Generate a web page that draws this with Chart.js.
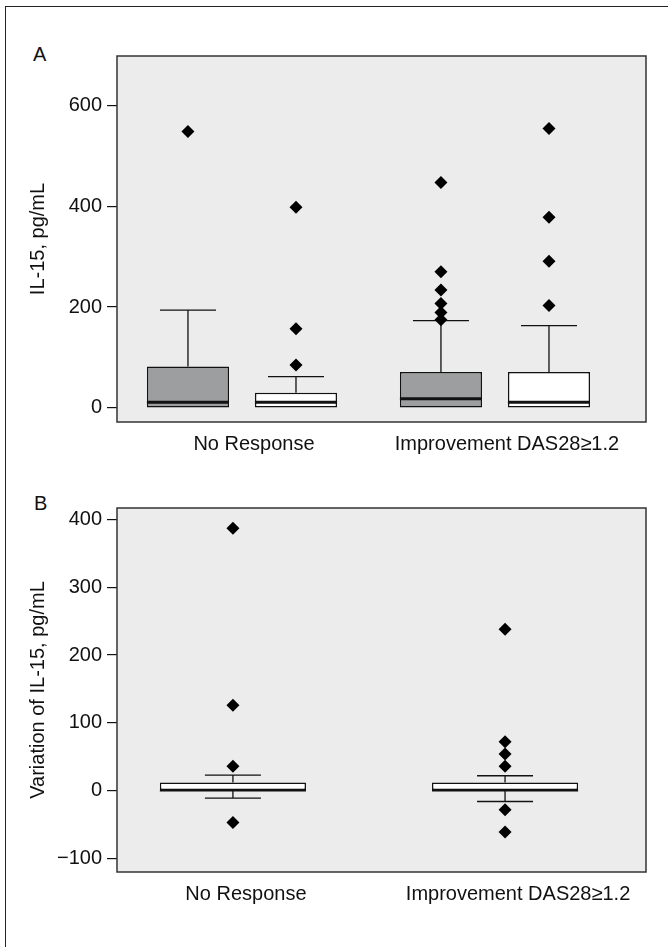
<!DOCTYPE html>
<html>
<head>
<meta charset="utf-8">
<title>IL-15 box plots</title>
<script src="https://cdn.jsdelivr.net/npm/chart.js@4.4.0/dist/chart.umd.min.js"></script>
<style>
  html, body { margin: 0; padding: 0; background: #fff; }
  body { width: 668px; height: 947px; position: relative; overflow: hidden; font-family: "Liberation Sans", Arial, sans-serif; }
  .frame { position: absolute; left: 5px; top: 6px; width: 700px; height: 1000px; border-left: 1.5px solid #222; border-top: 1.5px solid #222; }
  .tag { position: absolute; font-size: 20px; line-height: 24px; color: #111; }
  canvas { position: absolute; left: 0; }
</style>
</head>
<body>
<div class="frame"></div>
<div class="tag" style="left:33px; top:42px">A</div>
<div class="tag" style="left:34px; top:491px">B</div>
<canvas id="chartA" width="668" height="470" style="top:0"></canvas>
<canvas id="chartB" width="668" height="477" style="top:470px"></canvas>
<script>
const GROUPS = ['No Response', 'Improvement DAS28≥1.2'];

// panel A - grey boxes
const A_GREY_LOW = [1, 1];
const A_GREY_Q1 = [1, 1];
const A_GREY_MEDIAN = [11, 18];
const A_GREY_Q3 = [82, 71];
const A_GREY_HIGH = [194, 173];
const A_GREY_OUTLIERS = [[548], [447, 270, 234, 207, 189, 175]];

// panel A - white boxes
const A_WHITE_LOW = [1, 1];
const A_WHITE_Q1 = [1, 1];
const A_WHITE_MEDIAN = [11, 11];
const A_WHITE_Q3 = [30, 71];
const A_WHITE_HIGH = [62, 163];
const A_WHITE_OUTLIERS = [[398, 157, 85], [554, 378, 291, 203]];

const A_TICKS = [0, 200, 400, 600];

// panel B - variation
const B_LOW = [-11, -16];
const B_Q1 = [0, 0];
const B_MEDIAN = [0, 0];
const B_Q3 = [12, 12];
const B_HIGH = [23, 22];
const B_OUTLIERS = [[387, 126, 36, -47], [238, 72, 54, 36, -28, -61]];

const B_TICKS = [-100, 0, 100, 200, 300, 400];

const FONT = { family: '"Liberation Sans", Arial, sans-serif', size: 20 };
const INK = '#111';
const PLOT_BG = '#ebeceb';
const CAP = 56;

function fmt(v) {
  return v < 0 ? '\u2212' + Math.abs(v) : String(v);
}

function boxDataset(fill, low, q1, median, q3, high, outliers) {
  return {
    data: GROUPS.map((g, i) => ({ x: i + 1, y: [q1[i], q3[i]] })),
    backgroundColor: fill,
    borderColor: INK,
    borderWidth: 1.5,
    borderSkipped: false,
    medianWidth: 3,
    low, median, high, outliers
  };
}

// background, whiskers, medians, outliers and the plot frame
const boxExtras = {
  id: 'boxExtras',
  beforeDraw(chart) {
    const { ctx, chartArea: a } = chart;
    ctx.save();
    ctx.fillStyle = PLOT_BG;
    ctx.fillRect(a.left, a.top, a.width, a.height);
    ctx.restore();
  },
  afterDatasetsDraw(chart) {
    const { ctx } = chart;
    const y = chart.scales.y;
    ctx.save();
    ctx.strokeStyle = INK;
    ctx.fillStyle = '#000';
    chart.data.datasets.forEach((ds, di) => {
      chart.getDatasetMeta(di).data.forEach((bar, i) => {
        const x = bar.x;
        const half = bar.width / 2;
        const q1 = y.getPixelForValue(ds.data[i].y[0]);
        const q3 = y.getPixelForValue(ds.data[i].y[1]);
        const hi = y.getPixelForValue(ds.high[i]);
        const lo = y.getPixelForValue(ds.low[i]);

        ctx.lineWidth = 1.3;
        ctx.beginPath();
        if (hi < q3) {
          ctx.moveTo(x, q3); ctx.lineTo(x, hi);
          ctx.moveTo(x - CAP / 2, hi); ctx.lineTo(x + CAP / 2, hi);
        }
        if (lo > q1) {
          ctx.moveTo(x, q1); ctx.lineTo(x, lo);
          ctx.moveTo(x - CAP / 2, lo); ctx.lineTo(x + CAP / 2, lo);
        }
        ctx.stroke();

        const med = y.getPixelForValue(ds.median[i]);
        ctx.lineWidth = ds.medianWidth;
        ctx.beginPath();
        ctx.moveTo(x - half, med); ctx.lineTo(x + half, med);
        ctx.stroke();

        ds.outliers[i].forEach(v => {
          const py = y.getPixelForValue(v);
          ctx.beginPath();
          ctx.moveTo(x, py - 6.5);
          ctx.lineTo(x + 6.5, py);
          ctx.lineTo(x, py + 6.5);
          ctx.lineTo(x - 6.5, py);
          ctx.closePath();
          ctx.fill();
        });
      });
    });
    ctx.restore();
  },
  afterDraw(chart) {
    const { ctx, chartArea: a } = chart;
    ctx.save();
    ctx.strokeStyle = '#333';
    ctx.lineWidth = 1.5;
    ctx.strokeRect(a.left, a.top, a.width, a.height);
    ctx.restore();
  }
};

function yScale(min, max, ticks, title) {
  return {
    min, max,
    afterBuildTicks: s => { s.ticks = ticks.map(v => ({ value: v })); },
    afterFit: s => { s.width = 117; },
    grid: { drawOnChartArea: false, drawTicks: true, tickLength: 10, color: INK, lineWidth: 1.2 },
    border: { display: false },
    ticks: { color: INK, font: FONT, padding: 5, callback: v => fmt(v) },
    title: { display: true, text: title, color: INK, font: FONT, padding: { top: 26, bottom: 0 } }
  };
}

function xScale(min, max, height, labelShift) {
  return {
    type: 'linear', min, max, offset: false,
    afterBuildTicks: s => { s.ticks = GROUPS.map((g, i) => ({ value: i + 1 })); },
    afterFit: s => { s.height = height; },
    grid: { display: false, drawTicks: false },
    border: { display: false },
    ticks: { color: INK, font: FONT, padding: 10, labelOffset: labelShift, maxRotation: 0, autoSkip: false,
             callback: v => GROUPS[v - 1] }
  };
}

function commonOptions(padTop, scales) {
  return {
    responsive: false,
    animation: false,
    layout: { padding: { top: padTop, right: 22, left: 0, bottom: 0 } },
    plugins: { legend: { display: false }, tooltip: { enabled: false } },
    scales
  };
}

new Chart(document.getElementById('chartA'), {
  type: 'bar',
  data: {
    datasets: [
      boxDataset('#9d9e9f', A_GREY_LOW, A_GREY_Q1, A_GREY_MEDIAN, A_GREY_Q3, A_GREY_HIGH, A_GREY_OUTLIERS),
      boxDataset('#ffffff', A_WHITE_LOW, A_WHITE_Q1, A_WHITE_MEDIAN, A_WHITE_Q3, A_WHITE_HIGH, A_WHITE_OUTLIERS)
    ].map(d => Object.assign(d, { categoryPercentage: 0.854, barPercentage: 0.76 }))
  },
  options: commonOptions(56, {
    x: xScale(0.506, 2.597, 48, 12),
    y: yScale(-28, 698, A_TICKS, 'IL-15, pg/mL')
  }),
  plugins: [boxExtras]
});

new Chart(document.getElementById('chartB'), {
  type: 'bar',
  data: {
    datasets: [
      Object.assign(boxDataset('#ffffff', B_LOW, B_Q1, B_MEDIAN, B_Q3, B_HIGH, B_OUTLIERS),
        { categoryPercentage: 1, barPercentage: 0.537, medianWidth: 1.5 })
    ]
  },
  options: commonOptions(38, {
    x: xScale(0.574, 2.518, 75, 13),
    y: yScale(-120, 417, B_TICKS, 'Variation of IL-15, pg/mL')
  }),
  plugins: [boxExtras]
});
</script>
</body>
</html>
